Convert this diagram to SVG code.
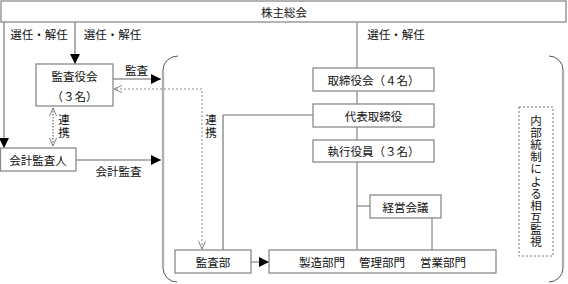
<svg xmlns="http://www.w3.org/2000/svg" width="568" height="284" viewBox="0 0 568 284">
<style>
  text { font-family: "Noto Sans CJK JP", "Noto Sans", sans-serif; font-size: 11.5px; fill: #111; dominant-baseline: central; }
  .c { text-anchor: middle; }
  .v { writing-mode: vertical-rl; text-anchor: middle; }
  .box { fill: #fff; stroke: #8a8a8a; stroke-width: 1.3; }
  .ln { fill: none; stroke: #999; stroke-width: 1.6; }
  .tn { fill: none; stroke: #6e6e6e; stroke-width: 1; }
  .br { fill: none; stroke: #b0b0b0; stroke-width: 2.4; }
  .arc { fill: none; stroke: #555; stroke-width: 1; }
  .dash { fill: none; stroke: #8a8a8a; stroke-width: 1; stroke-dasharray: 2 2; }
  .dash2 { fill: none; stroke: #aaa; stroke-width: 2; stroke-dasharray: 1.5 1.5; }
  .idash { fill: #fff; stroke: #777; stroke-width: 1; stroke-dasharray: 2 2; }
</style>
<defs>
  <marker id="fa" viewBox="0 0 10 10" refX="10" refY="5" markerWidth="10" markerHeight="10" markerUnits="userSpaceOnUse" orient="auto">
    <path d="M0,0 L10,5 L0,10 Z" fill="#000"/>
  </marker>
  <marker id="oa" viewBox="0 0 10 10" refX="10" refY="5" markerWidth="9" markerHeight="9" markerUnits="userSpaceOnUse" orient="auto-start-reverse">
    <path d="M1,1 L10,5 L1,9" fill="none" stroke="#777" stroke-width="1"/>
  </marker>
</defs>
<rect width="568" height="284" fill="#fff"/>

<g id="connectors">
  <line class="br" x1="163" y1="70" x2="163" y2="268"/>
  <path class="arc" d="M178,56 A15,14 0 0 0 163,70"/>
  <path class="arc" d="M163,268 A14,14 0 0 0 177,282"/>
  <line class="br" x1="563" y1="70" x2="563" y2="268"/>
  <path class="arc" d="M549,56 A14,14 0 0 1 563,70"/>
  <path class="arc" d="M563,268 A14,14 0 0 1 549,282"/>

  <line class="ln" x1="4" y1="22" x2="4" y2="148" marker-end="url(#fa)"/>
  <line class="ln" x1="75" y1="22" x2="75" y2="64" marker-end="url(#fa)"/>
  <line class="ln" x1="113" y1="79" x2="161" y2="79" marker-end="url(#fa)"/>
  <line class="ln" x1="76" y1="160" x2="161" y2="160" marker-end="url(#fa)"/>
  <line class="dash2" x1="53" y1="108" x2="53" y2="146" marker-start="url(#oa)" marker-end="url(#oa)"/>
  <path class="dash" d="M202,249 L202,89 L114,89" marker-start="url(#oa)" marker-end="url(#oa)"/>
  <path class="ln" d="M223,250 L223,115"/>
  <line class="tn" x1="223" y1="115" x2="313" y2="115"/>
  <line class="tn" x1="357" y1="22" x2="357" y2="68"/>
  <line class="tn" x1="357" y1="91" x2="357" y2="104"/>
  <line class="tn" x1="357" y1="127" x2="357" y2="140"/>
  <line class="tn" x1="357" y1="162" x2="357" y2="250"/>
  <line class="tn" x1="357" y1="206" x2="370" y2="206"/>
  <line class="tn" x1="432" y1="218" x2="432" y2="250"/>
  <line class="tn" x1="251" y1="262" x2="269" y2="262" marker-end="url(#fa)"/>
</g>

<g id="shareholders">
  <rect class="box" x="1" y="1" width="565" height="21"/>
  <text class="c" x="284" y="11.5">株主総会</text>
</g>

<g id="labels">
  <text class="c" x="39" y="34">選任・解任</text>
  <text class="c" x="112.5" y="34">選任・解任</text>
  <text class="c" x="396" y="34">選任・解任</text>
  <text class="c" x="136.5" y="70">監査</text>
  <text class="c" x="118.5" y="171">会計監査</text>
  <text class="v" x="64" y="126.5" letter-spacing="1">連携</text>
  <text class="v" x="211" y="126.5" letter-spacing="1">連携</text>
</g>

<g id="kansayakukai">
  <rect class="box" x="36" y="64" width="77" height="42"/>
  <text class="c" x="74.5" y="76">監査役会</text>
  <text class="c" x="74.5" y="96">（３名）</text>
</g>

<g id="kaikeikansanin">
  <rect class="box" x="0.5" y="148" width="75.5" height="23"/>
  <text class="c" x="38" y="159.5">会計監査人</text>
</g>

<g id="torishimariyakukai">
  <rect class="box" x="313" y="68" width="121" height="23"/>
  <text class="c" x="373.5" y="79.5">取締役会（４名）</text>
</g>

<g id="daihyo">
  <rect class="box" x="313" y="104" width="121" height="23"/>
  <text class="c" x="373.5" y="115.5">代表取締役</text>
</g>

<g id="shikko">
  <rect class="box" x="313" y="140" width="121" height="22"/>
  <text class="c" x="373.5" y="151">執行役員（３名）</text>
</g>

<g id="keiei">
  <rect class="box" x="370" y="195" width="71" height="23"/>
  <text class="c" x="405.5" y="206.5">経営会議</text>
</g>

<g id="kansabu">
  <rect class="box" x="175" y="250" width="76" height="23"/>
  <text class="c" x="213" y="261.5">監査部</text>
</g>

<g id="bumon">
  <rect class="box" x="269" y="250" width="227" height="23"/>
  <text x="299" y="261.5">製造部門</text>
  <text x="359" y="261.5">管理部門</text>
  <text x="420" y="261.5">営業部門</text>
</g>

<g id="naibutosei">
  <rect class="idash" x="519" y="107" width="34" height="149"/>
  <text class="v" x="536" y="181.5" letter-spacing="0.6">内部統制による相互監視</text>
</g>
</svg>
